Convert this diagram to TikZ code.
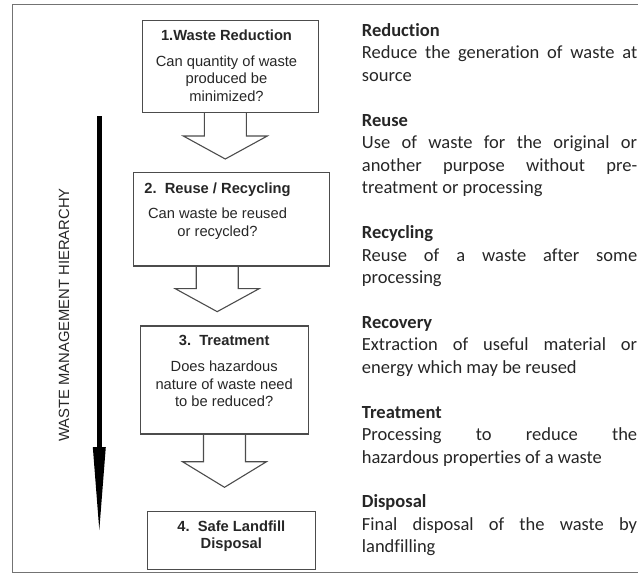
\documentclass[tikz,border=0pt]{standalone}
\usepackage{fontspec}
\newfontfamily\boxfont{Liberation Sans}
\newfontfamily\notefont[Ligatures=NoCommon]{Carlito}
\usetikzlibrary{arrows.meta}
\tikzset{
	stage/.style={draw=black!70, line width=1.1pt, inner sep=0pt, outer sep=0pt},
	stagetext/.style={font=\boxfont\fontsize{14.7}{17.7}\selectfont, text=black!85, align=center, inner sep=0pt, anchor=north},
	blockline/.style={draw=black!70, line width=1.1pt, line join=miter},
	notes/.style={font=\notefont\fontsize{18.5}{22.45}\selectfont, text=black!85, text width=275.3pt, align=justify, inner sep=0pt},
}
\begin{document}
\begin{tikzpicture}[x=1pt, y=-1pt]
		\pgfmathsetmacro{\sw}{21}
		\pgfmathsetmacro{\hw}{42}
		\pgfmathsetmacro{\gap}{22.45}
		\useasboundingbox (0,0) rectangle (638,574);
		\draw[black!55, line width=1.2pt] (638,4.5) -- (12.5,4.5) -- (12.5,572.5) -- (638,572.5);
		\node[stage, minimum width=176pt, minimum height=92pt] (b1) at (230.7,66.7) {};
		\node[stage, minimum width=195.7pt, minimum height=93.3pt] (b2) at (231.2,219.3) {};
		\node[stage, minimum width=167.6pt, minimum height=108pt] (b3) at (224.5,380) {};
		\node[stage, minimum width=168pt, minimum height=58.3pt] (b4) at (231.3,540.2) {};
		\node[stagetext] (t1) at (226.5,29.7)
			{{\bfseries 1.Waste Reduction}\\[8pt] Can quantity of waste\\ produced be\\ minimized?};
		\node[stagetext] (t2) at (217.5,183)
			{{\bfseries 2.\ \ Reuse / Recycling}\\[7pt] Can waste be reused\\ or recycled?};
		\node[stagetext] (t3) at (224.2,335.4)
			{{\bfseries 3.\ \ Treatment}\\[8pt] Does hazardous\\ nature of waste need\\ to be reduced?};
		\node[stagetext, font=\boxfont\bfseries\fontsize{14.7}{17.7}\selectfont] (t4) at (231.3,520.4)
			{4.\ \ Safe Landfill\\ Disposal};
		\foreach \b/\dx/\sl/\hl in {b1/-5.4/23.3/23, b2/-14/22.7/23, b3/0/27.7/25.6} {
			\path (\b.south) ++(\dx,0) coordinate (\b tip);
			\draw[blockline] (\b tip) ++(-\sw,0) -- ++(0,\sl) -- ++(\sw-\hw,0) -- ++(\hw,\hl) --
				++(\hw,-\hl) -- ++(\sw-\hw,0) -- ++(0,-\sl);
		}
		\coordinate (hTop) at (99.3,116);
		\coordinate (hBot) at (99.3,530);
		\draw[black, line width=5pt, -{Triangle[length=83pt, width=13pt, line width=0pt]}] (hTop) -- (hBot);
		\node[rotate=90, font=\boxfont\fontsize{14.8}{17}\selectfont, text=black!85] (hLabel) at (64,315)
			{WASTE MANAGEMENT HIERARCHY};
		\node[notes, anchor=base west] (defs) at (361.7,36.5) {\sloppy\hyphenpenalty=10000
			\textbf{Reduction}\\
			Reduce the generation of waste at\linebreak source\par\vspace{\gap pt}
			\textbf{Reuse}\\
			Use of waste for the original or\linebreak another purpose without pre-\linebreak treatment or processing\par\vspace{\gap pt}
			\textbf{Recycling}\\
			Reuse of a waste after some\linebreak processing\par\vspace{\gap pt}
			\textbf{Recovery}\\
			Extraction of useful material or\linebreak energy which may be reused\par\vspace{\gap pt}
			\textbf{Treatment}\\
			Processing to reduce the\linebreak hazardous properties of a waste\par\vspace{\gap pt}
			\textbf{Disposal}\\
			Final disposal of the waste by\linebreak landfilling};
	\end{tikzpicture}
\end{document}
